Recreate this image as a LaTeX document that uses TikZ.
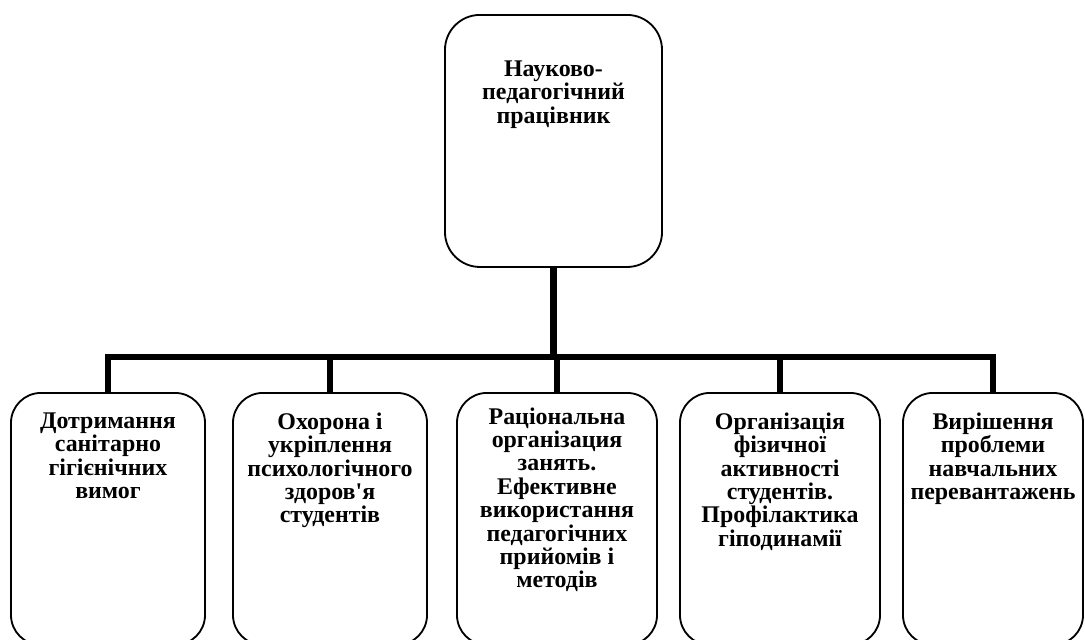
\documentclass[tikz,border=0pt]{standalone}
\usepackage{fontspec}
\setmainfont{Liberation Serif}
\usetikzlibrary{positioning}

\newcommand{\cardtext}[4]{\parbox[t][#2][t]{#1}{\centering\vspace*{#3}#4}}

\tikzset{
	card/.style={draw, line width=1.3pt, rounded corners=0.75cm, anchor=north,
		inner sep=0pt, font=\bfseries\fontsize{17}{16.6}\selectfont},
	link/.style={line width=4.6pt},
}

\begin{document}
\begin{tikzpicture}[x=0.025cm,y=-0.025cm]
	\clip (0,0) rectangle (1085,639);

	% top box
	\node [card, rounded corners=0.875cm] (head) at (553.5,14)
		{\cardtext{5.425cm}{6.3cm}{1.15cm}{Науково-\\педагогічний\\працівник}};

	% lower row
	\node [card] (b1) at (108,392)
		{\cardtext{4.85cm}{6.3cm}{0.5cm}{Дотримання\\санітарно\\гігієнічних\\вимог}};
	\node [card] (b2) at (330,392)
		{\cardtext{4.85cm}{6.3cm}{0.5cm}{Охорона і\\укріплення\\психологічного\\здоров\textquotesingle я\\студентів}};
	\node [card] (b3) at (557,392)
		{\cardtext{5cm}{6.3cm}{0.37cm}{Раціональна\\організация\\занять.\\Ефективне\\використання\\педагогічних\\прийомів і\\методів}};
	\node [card] (b4) at (780,392)
		{\cardtext{5cm}{6.3cm}{0.5cm}{Організація\\фізичної\\активності\\студентів.\\Профілактика\\гіподинамії}};
	\node [card] (b5) at (993,392)
		{\cardtext{4.5cm}{6.3cm}{0.5cm}{Вирішення\\проблеми\\навчальних\\перевантажень}};

	% connectors
	\coordinate (bus) at (0,357);
	\draw [link] (head.south) -- (head.south |- bus);
	\draw [link] (b1.north) -- (b1.north |- bus) -- (b5.north |- bus) -- (b5.north);
	\draw [link] (b2.north |- bus) -- (b2.north);
	\draw [link] (b3.north |- bus) -- (b3.north);
	\draw [link] (b4.north |- bus) -- (b4.north);
\end{tikzpicture}
\end{document}
